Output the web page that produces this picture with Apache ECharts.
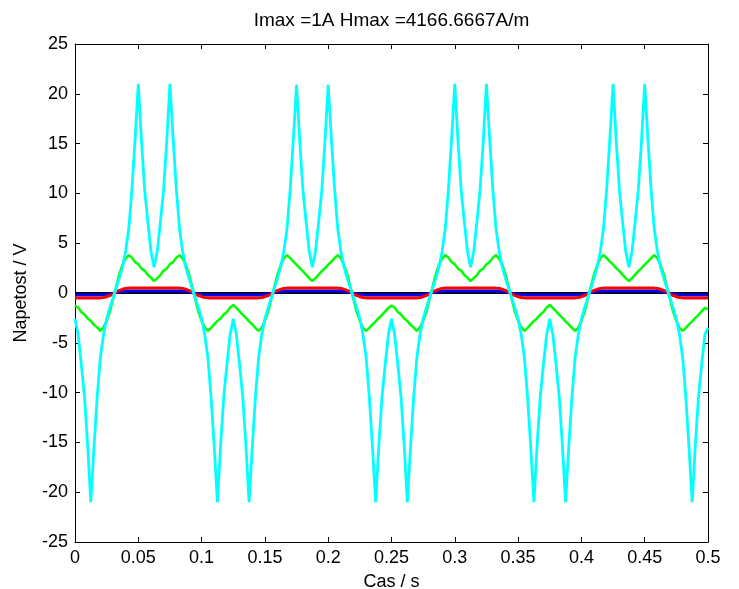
<!DOCTYPE html>
<html><head><meta charset="utf-8">
<script src="https://cdn.jsdelivr.net/npm/echarts@6/dist/echarts.min.js"></script>
<style>html,body{margin:0;padding:0;background:#fff}#c{width:739px;height:589px}</style>
</head><body><div id="c"></div>
<script>
const titleText = 'Imax =1A Hmax =4166.6667A/m';
const xName = 'Cas / s';
const yName = 'Napetost / V';
const xTickLabels = ['0','0.05','0.1','0.15','0.2','0.25','0.3','0.35','0.4','0.45','0.5'];
const yTickLabels = ['-25','-20','-15','-10','-5','0','5','10','15','20','25'];
const sampleStep = 0.0025; // s between samples, t = 0 .. 0.5

const cyanV = [
-2.6,-4.2,-7.2,-10.4,-15.3,-21,-15.5,-10.5,-6.5,-4.2,-2.6,-1.5,-0.5,0.5,1.5,2.6,4.2,6.5,10.5,15.5,21,15.3,10.4,7.2,4.2,2.6,4.2,7.2,10.4,15.3,21,15.5,10.5,6.5,4.2,2.6,1.5,0.5,-0.5,-1.5,-2.6,-4.2,-6.5,-10.5,-15.5,-21,-15.3,-10.4,-7.2,-4.2,
-2.6,-4.2,-7.2,-10.4,-15.3,-21,-15.5,-10.5,-6.5,-4.2,-2.6,-1.5,-0.5,0.5,1.5,2.6,4.2,6.5,10.5,15.5,20.9,15.3,10.4,7.2,4.2,2.6,4.2,7.2,10.4,15.3,20.9,15.5,10.5,6.5,4.2,2.6,1.5,0.5,-0.5,-1.5,-2.6,-4.2,-6.5,-10.5,-15.5,-21,-15.3,-10.4,-7.2,-4.2,
-2.6,-4.2,-7.2,-10.4,-15.3,-21,-15.5,-10.5,-6.5,-4.2,-2.6,-1.5,-0.5,0.5,1.5,2.6,4.2,6.5,10.5,15.5,21,15.3,10.4,7.2,4.2,2.6,4.2,7.2,10.4,15.3,21,15.5,10.5,6.5,4.2,2.6,1.5,0.5,-0.5,-1.5,-2.6,-4.2,-6.5,-10.5,-15.5,-21,-15.3,-10.4,-7.2,-4.2,
-2.6,-4.2,-7.2,-10.4,-15.3,-21,-15.5,-10.5,-6.5,-4.2,-2.6,-1.5,-0.5,0.5,1.5,2.6,4.2,6.5,10.5,15.5,21,15.3,10.4,7.2,4.2,2.6,4.2,7.2,10.4,15.3,21,15.5,10.5,6.5,4.2,2.6,1.5,0.5,-0.5,-1.5,-2.6,-4.2,-6.5,-10.5,-15.5,-21,-15.3,-10.4,-7.2,-4.2,
-3.5];

const greenV = [
-1.25,-1.45,-1.9,-2.15,-2.55,-2.8,-3.2,-3.45,-3.8,-3.45,-2.8,-1.9,-0.65,0.65,1.9,2.85,3.45,3.8,3.55,3.1,2.9,2.45,2.25,1.8,1.55,1.2,1.5,1.8,2.25,2.45,2.9,3.1,3.55,3.8,3.45,2.85,1.9,0.65,-0.65,-1.9,-2.8,-3.45,-3.8,-3.5,-3.15,-2.8,-2.55,-2.15,-1.9,-1.45,
-1.2,-1.5,-1.85,-2.2,-2.5,-2.85,-3.15,-3.5,-3.8,-3.5,-2.8,-1.9,-0.65,0.65,1.9,2.8,3.5,3.8,3.5,3.15,2.85,2.5,2.2,1.85,1.5,1.2,1.5,1.85,2.2,2.5,2.85,3.15,3.5,3.8,3.5,2.8,1.9,0.65,-0.65,-1.9,-2.8,-3.5,-3.8,-3.5,-3.15,-2.85,-2.5,-2.2,-1.85,-1.5,
-1.25,-1.45,-1.9,-2.15,-2.55,-2.8,-3.2,-3.45,-3.8,-3.45,-2.8,-1.9,-0.65,0.65,1.9,2.85,3.45,3.8,3.55,3.1,2.9,2.45,2.25,1.8,1.55,1.2,1.5,1.8,2.25,2.45,2.9,3.1,3.55,3.8,3.45,2.85,1.9,0.65,-0.65,-1.9,-2.8,-3.45,-3.8,-3.5,-3.15,-2.8,-2.55,-2.15,-1.9,-1.45,
-1.2,-1.5,-1.85,-2.2,-2.5,-2.85,-3.15,-3.5,-3.8,-3.5,-2.8,-1.9,-0.65,0.65,1.9,2.8,3.5,3.8,3.5,3.15,2.85,2.5,2.2,1.85,1.5,1.2,1.5,1.85,2.2,2.5,2.85,3.15,3.5,3.8,3.5,2.8,1.9,0.65,-0.65,-1.9,-2.8,-3.5,-3.8,-3.5,-3.15,-2.85,-2.5,-2.2,-1.85,-1.5,
-1.6];

const redV = [
-0.5,-0.5,-0.5,-0.5,-0.5,-0.5,-0.5,-0.5,-0.49,-0.45,-0.37,-0.26,-0.1,0.1,0.26,0.37,0.45,0.49,0.5,0.5,0.5,0.5,0.5,0.5,0.5,0.5,0.5,0.5,0.5,0.5,0.5,0.5,0.5,0.49,0.45,0.37,0.26,0.1,-0.1,-0.26,-0.37,-0.45,-0.49,-0.5,-0.5,-0.5,-0.5,-0.5,-0.5,-0.5,
-0.5,-0.5,-0.5,-0.5,-0.5,-0.5,-0.5,-0.5,-0.49,-0.45,-0.37,-0.26,-0.1,0.1,0.26,0.37,0.45,0.49,0.5,0.5,0.5,0.5,0.5,0.5,0.5,0.5,0.5,0.5,0.5,0.5,0.5,0.5,0.5,0.49,0.45,0.37,0.26,0.1,-0.1,-0.26,-0.37,-0.45,-0.49,-0.5,-0.5,-0.5,-0.5,-0.5,-0.5,-0.5,
-0.5,-0.5,-0.5,-0.5,-0.5,-0.5,-0.5,-0.5,-0.49,-0.45,-0.37,-0.26,-0.1,0.1,0.26,0.37,0.45,0.49,0.5,0.5,0.5,0.5,0.5,0.5,0.5,0.5,0.5,0.5,0.5,0.5,0.5,0.5,0.5,0.49,0.45,0.37,0.26,0.1,-0.1,-0.26,-0.37,-0.45,-0.49,-0.5,-0.5,-0.5,-0.5,-0.5,-0.5,-0.5,
-0.5,-0.5,-0.5,-0.5,-0.5,-0.5,-0.5,-0.5,-0.49,-0.45,-0.37,-0.26,-0.1,0.1,0.26,0.37,0.45,0.49,0.5,0.5,0.5,0.5,0.5,0.5,0.5,0.5,0.5,0.5,0.5,0.5,0.5,0.5,0.5,0.49,0.45,0.37,0.26,0.1,-0.1,-0.26,-0.37,-0.45,-0.49,-0.5,-0.5,-0.5,-0.5,-0.5,-0.5,-0.5,
-0.5];

const blueV = [
-0.2,-0.2,-0.2,-0.2,-0.2,-0.2,-0.2,-0.2,-0.2,-0.18,-0.15,-0.1,-0.04,0.04,0.1,0.15,0.18,0.2,0.2,0.2,0.2,0.2,0.2,0.2,0.2,0.2,0.2,0.2,0.2,0.2,0.2,0.2,0.2,0.2,0.18,0.15,0.1,0.04,-0.04,-0.1,-0.15,-0.18,-0.2,-0.2,-0.2,-0.2,-0.2,-0.2,-0.2,-0.2,
-0.2,-0.2,-0.2,-0.2,-0.2,-0.2,-0.2,-0.2,-0.2,-0.18,-0.15,-0.1,-0.04,0.04,0.1,0.15,0.18,0.2,0.2,0.2,0.2,0.2,0.2,0.2,0.2,0.2,0.2,0.2,0.2,0.2,0.2,0.2,0.2,0.2,0.18,0.15,0.1,0.04,-0.04,-0.1,-0.15,-0.18,-0.2,-0.2,-0.2,-0.2,-0.2,-0.2,-0.2,-0.2,
-0.2,-0.2,-0.2,-0.2,-0.2,-0.2,-0.2,-0.2,-0.2,-0.18,-0.15,-0.1,-0.04,0.04,0.1,0.15,0.18,0.2,0.2,0.2,0.2,0.2,0.2,0.2,0.2,0.2,0.2,0.2,0.2,0.2,0.2,0.2,0.2,0.2,0.18,0.15,0.1,0.04,-0.04,-0.1,-0.15,-0.18,-0.2,-0.2,-0.2,-0.2,-0.2,-0.2,-0.2,-0.2,
-0.2,-0.2,-0.2,-0.2,-0.2,-0.2,-0.2,-0.2,-0.2,-0.18,-0.15,-0.1,-0.04,0.04,0.1,0.15,0.18,0.2,0.2,0.2,0.2,0.2,0.2,0.2,0.2,0.2,0.2,0.2,0.2,0.2,0.2,0.2,0.2,0.2,0.18,0.15,0.1,0.04,-0.04,-0.1,-0.15,-0.18,-0.2,-0.2,-0.2,-0.2,-0.2,-0.2,-0.2,-0.2,
-0.2];

const blackV = [
0,0,0,0,0,0,0,0,0,0,0,0,0,0,0,0,0,0,0,0,0,0,0,0,0,0,0,0,0,0,0,0,0,0,0,0,0,0,0,0,0,0,0,0,0,0,0,0,0,0,
0,0,0,0,0,0,0,0,0,0,0,0,0,0,0,0,0,0,0,0,0,0,0,0,0,0,0,0,0,0,0,0,0,0,0,0,0,0,0,0,0,0,0,0,0,0,0,0,0,0,
0,0,0,0,0,0,0,0,0,0,0,0,0,0,0,0,0,0,0,0,0,0,0,0,0,0,0,0,0,0,0,0,0,0,0,0,0,0,0,0,0,0,0,0,0,0,0,0,0,0,
0,0,0,0,0,0,0,0,0,0,0,0,0,0,0,0,0,0,0,0,0,0,0,0,0,0,0,0,0,0,0,0,0,0,0,0,0,0,0,0,0,0,0,0,0,0,0,0,0,0,
0];

const FONT = '"Liberation Sans", Arial, sans-serif';
const pairs = vals => vals.map((v, i) => [+(i * sampleStep).toFixed(4), v]);
const mkLine = (name, vals, color, width) => ({
  name, type: 'line', data: pairs(vals), showSymbol: false, symbol: 'none',
  lineStyle: { color, width }, itemStyle: { color }, animation: false,
  xAxisIndex: 0, yAxisIndex: 0
});

const axisBase = {
  axisLine: { show: true, onZero: false, lineStyle: { color: '#000', width: 1 } },
  axisTick: { show: true, inside: true, length: 5, lineStyle: { color: '#000', width: 1 } },
  splitLine: { show: false }
};

const chart = echarts.init(document.getElementById('c'), null, { renderer: 'canvas' });
chart.setOption({
  animation: false,
  backgroundColor: '#fff',
  title: {
    text: titleText, left: 391.5, top: 11, padding: 0, textAlign: 'center',
    textStyle: { fontFamily: FONT, fontSize: 19, fontWeight: 'normal', color: '#000' }
  },
  grid: { left: 75, right: 31, top: 44, bottom: 47, containLabel: false, outerBoundsMode: 'none' },
  xAxis: [
    Object.assign({
      type: 'value', min: 0, max: 0.5, interval: 0.05, position: 'bottom',
      name: xName, nameLocation: 'middle', nameGap: 31,
      nameTextStyle: { fontFamily: FONT, fontSize: 18, color: '#000' },
      axisLabel: { margin: 7, fontFamily: FONT, fontSize: 18, color: '#000',
        formatter: v => xTickLabels[Math.round(v / 0.05)] }
    }, axisBase),
    Object.assign({
      type: 'value', min: 0, max: 0.5, interval: 0.05, position: 'top',
      axisLabel: { show: false }
    }, axisBase)
  ],
  yAxis: [
    Object.assign({
      type: 'value', min: -25, max: 25, interval: 5, position: 'left',
      name: yName, nameLocation: 'middle', nameGap: 45,
      nameTextStyle: { fontFamily: FONT, fontSize: 18, color: '#000' },
      axisLabel: { margin: 7, fontFamily: FONT, fontSize: 18, color: '#000',
        formatter: v => yTickLabels[Math.round((v + 25) / 5)] }
    }, axisBase),
    Object.assign({
      type: 'value', min: -25, max: 25, interval: 5, position: 'right',
      axisLabel: { show: false }
    }, axisBase)
  ],
  series: [
    mkLine('black', blackV, '#000000', 2),
    mkLine('blue', blueV, '#0000ff', 3),
    mkLine('red', redV, '#ff0000', 3),
    mkLine('green', greenV, '#00ff00', 2.5),
    mkLine('cyan', cyanV, '#00ffff', 2.8)
  ]
});
</script>
</body></html>
